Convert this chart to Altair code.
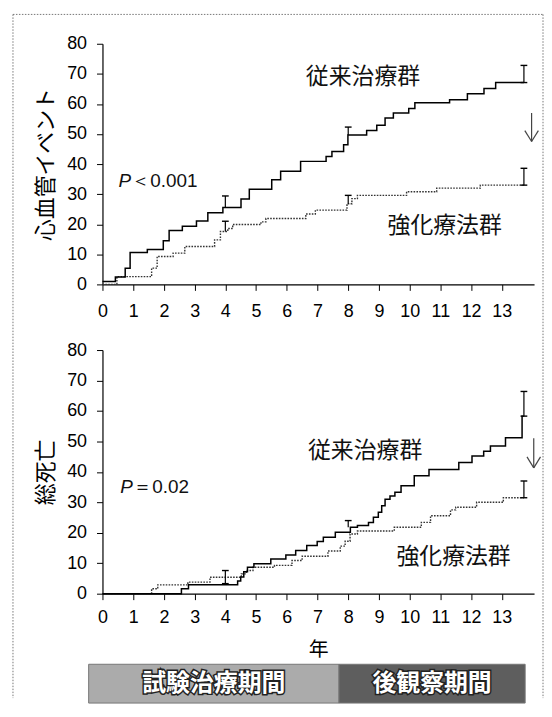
import altair as alt
import pandas as pd

# ---------------- data ----------------
YEAR_TICKS = list(range(0, 14))
Y_TICKS = list(range(0, 81, 10))

GROUPS = ["従来治療群", "強化療法群"]

# 心血管イベント (%)
cv_conv_t = [0, 0.42, 0.74, 0.90, 1.46, 1.98, 2.17, 2.6, 3.06, 3.43, 3.92, 4.51, 4.78, 5.51, 5.8, 6.45,
             7.28, 7.47, 7.85, 7.99, 8.6, 8.93, 9.2, 9.47, 9.97, 10.17, 11.3, 11.88, 12.42, 12.8, 13.72]
cv_conv_v = [1.0, 2.5, 5.4, 10.6, 11.6, 14.5, 17.9, 19.3, 21.1, 23.8, 25.6, 28.4, 31.6, 34.8, 37.6, 40.9,
             42.5, 44.2, 46.4, 49.7, 51.2, 52.9, 55.3, 57.0, 58.5, 60.4, 61.4, 63.4, 65.1, 67.1, 67.1]
cv_int_t = [0, 0.47, 1.6, 1.78, 2.3, 2.68, 3.65, 3.84, 4.08, 4.24, 5.16, 5.32, 6.62, 6.93, 7.96, 8.12,
            8.3, 9.9, 10.88, 12.3, 13.72]
cv_int_v = [0, 2.6, 5.4, 9.3, 10.4, 12.6, 14.8, 17.6, 18.6, 19.9, 20.8, 21.9, 23.4, 24.7, 26.8, 28.5,
            29.6, 30.8, 32.0, 33.0, 33.0]

# 総死亡 (%)
dth_conv_t = [0, 2.57, 2.8, 4.4, 4.5, 4.6, 4.72, 4.93, 5.48, 5.97, 6.29, 6.65, 6.99, 7.19, 7.58, 8.07,
              8.3, 8.66, 8.82, 8.98, 9.09, 9.2, 9.36, 9.52, 9.72, 10.15, 10.63, 11.6, 12.03, 12.41,
              12.63, 13.12, 13.66, 13.72]
dth_conv_v = [0, 1.6, 2.9, 4.2, 5.5, 7.2, 8.7, 9.8, 11.4, 12.7, 14.2, 15.8, 17.1, 18.5, 20.2, 21.8,
              22.4, 23.4, 25.1, 26.7, 28.9, 31.0, 32.1, 33.3, 35.4, 38.7, 40.8, 43.1, 45.2, 46.8,
              48.5, 51.2, 58.3, 58.3]
dth_int_t = [0, 1.6, 1.8, 2.78, 3.5, 4.52, 4.68, 4.9, 5.6, 6.17, 6.5, 7.34, 7.74, 7.9, 8.06, 8.3,
             9.5, 10.38, 10.68, 11.33, 11.5, 12.18, 13.05, 13.72]
dth_int_v = [0, 1.6, 2.9, 3.8, 5.4, 6.5, 7.6, 8.7, 9.3, 10.9, 12.3, 14.0, 15.6, 17.2, 19.6, 20.6,
             21.8, 23.4, 25.6, 27.5, 28.4, 30.0, 31.5, 31.5]

# error bars
cv_bar_t = [4, 4, 8, 8, 13.72, 13.72]
cv_bar_lo = [25.6, 17.6, 49.7, 26.8, 67.1, 33.0]
cv_bar_hi = [29.4, 21.0, 52.3, 29.6, 72.8, 38.6]
cv_bar_caps = ["top", "top", "top", "top", "both", "both"]

dth_bar_t = [4, 8, 13.72, 13.72]
dth_bar_lo = [3.3, 21.8, 58.3, 31.5]
dth_bar_hi = [7.6, 24.0, 66.4, 37.0]
dth_bar_caps = ["both", "top", "both", "both"]

# annotations
cv_label_t = [8.48, 11.14]
cv_label_v = [69.0, 19.3]
dth_label_t = [8.55, 11.43]
dth_label_v = [46.8, 12.1]

cv_p = ["P", "＜0.001"]
cv_p_pos = (0.52, 34.3)
dth_p = ["P", "＝0.02"]
dth_p_pos = (0.58, 34.9)

cv_arrow = (13.97, 57.0, 47.5)
dth_arrow = (14.04, 51.0, 41.3)

periods = ["試験治療期間", "後観察期間"]
period_start = [-0.45, 7.7]
period_end = [7.7, 13.76]
period_fill = ["#ababab", "#5e5e5e"]

# ---------------- layout ----------------
W = 434
H1 = 242
H2 = 245
XDOM = [0, 14.05]
NUM_FONT = "Liberation Sans"
JP_FONT = "Noto Sans CJK JP"
CAP = 0.11
HEAD = 0.22


def make_panel(conv_t, conv_v, int_t, int_v, bar_t, bar_lo, bar_hi, bar_caps,
               lab_t, lab_v, ptexts, ppos, arrow, ytitle, height, xtitle, xlabpad, extra=None):
    xs = alt.Scale(domain=XDOM, nice=False, zero=False)
    ys = alt.Scale(domain=[0, 80], nice=False, zero=False)
    ax_x_kw = dict(values=YEAR_TICKS, tickSize=6, labelPadding=xlabpad, labelFont=NUM_FONT,
                   labelFontSize=18, labelColor="black", tickColor="black", domainColor="black",
                   grid=False, labelFlush=False, labelOverlap=False, domainWidth=1.2)
    if xtitle:
        ax_x_kw.update(titleFont=JP_FONT, titleFontSize=20, titleFontWeight="normal",
                       titleColor="black", titleY=56, titleBaseline="middle")
    ax_x = alt.Axis(**ax_x_kw)
    ax_y = alt.Axis(values=Y_TICKS, tickSize=6, labelPadding=10, labelFont=NUM_FONT,
                    labelFontSize=18, labelColor="black", tickColor="black", domainColor="black",
                    grid=False, labelFlush=False, labelOverlap=False, domainWidth=1.2,
                    titleFont=JP_FONT, titleFontSize=22, titleFontWeight="normal",
                    titleColor="black", titleX=-57, titleY=height / 2, titleAngle=270,
                    titleBaseline="middle", titleAlign="center")

    def X(f):
        return alt.X(f"{f}:Q", scale=xs, axis=ax_x, title=xtitle)

    def Y(f):
        return alt.Y(f"{f}:Q", scale=ys, axis=ax_y, title=ytitle)

    conv = pd.DataFrame({"t": conv_t, "v": conv_v})
    intn = pd.DataFrame({"t": int_t, "v": int_v})
    line_conv = alt.Chart(conv).mark_line(interpolate="step-after", color="black",
                                          strokeWidth=1.5).encode(x=X("t"), y=Y("v"))
    line_int = alt.Chart(intn).mark_line(interpolate="step-after", color="#333",
                                         strokeWidth=1.4, strokeDash=[1.6, 1.3]).encode(x=X("t"), y=Y("v"))

    bars = pd.DataFrame({"t": bar_t, "lo": bar_lo, "hi": bar_hi, "caps": bar_caps})
    bar_rule = alt.Chart(bars).mark_rule(color="black", strokeWidth=1.2).encode(
        x=X("t"), y=Y("lo"), y2="hi")
    caps_rows = []
    for t, lo, hi, c in zip(bar_t, bar_lo, bar_hi, bar_caps):
        caps_rows.append({"t": t - CAP, "t2": t + CAP, "v": hi})
        if c == "both":
            caps_rows.append({"t": t - CAP, "t2": t + CAP, "v": lo})
    caps = alt.Chart(pd.DataFrame(caps_rows)).mark_rule(color="black", strokeWidth=1.4).encode(
        x=X("t"), x2="t2", y=Y("v"))

    labels = pd.DataFrame({"t": lab_t, "v": lab_v, "label": GROUPS})
    lab = alt.Chart(labels).mark_text(font=JP_FONT, fontSize=23, color="#111", align="center",
                                      baseline="middle").encode(x=X("t"), y=Y("v"), text="label")

    pdf = pd.DataFrame({"t": [ppos[0]], "v": [ppos[1]], "a": [ptexts[0]], "b": [ptexts[1]]})
    p1 = alt.Chart(pdf).mark_text(font=NUM_FONT, fontSize=19, fontStyle="italic", color="#111",
                                  align="left", baseline="middle").encode(x=X("t"), y=Y("v"), text="a")
    p2 = alt.Chart(pdf).mark_text(font=NUM_FONT, fontSize=19, color="#111", align="left",
                                  baseline="middle", dx=13).encode(x=X("t"), y=Y("v"), text="b")

    ax, atop, abot = arrow
    hy = 3.6
    arr = pd.DataFrame({"t": [ax, ax - HEAD, ax + HEAD], "t2": [ax, ax, ax],
                        "v": [atop, abot + hy, abot + hy], "v2": [abot, abot, abot]})
    arrow_l = alt.Chart(arr).mark_rule(color="#444", strokeWidth=1.2).encode(
        x=X("t"), x2="t2", y=Y("v"), y2="v2")

    layers = [line_int, line_conv, bar_rule, caps, lab, p1, p2, arrow_l]
    if extra is not None:
        layers += extra(X, Y)
    return alt.layer(*layers).properties(width=W, height=height)


def frame_rule(x, x2, y, y2):
    return alt.Chart(pd.DataFrame({"k": [0]})).mark_rule(
        color="#777", strokeDash=[1.5, 1.5], strokeWidth=1).encode(
        x=alt.value(x), x2=alt.value(x2), y=alt.value(y), y2=alt.value(y2))


def frame_layers(X, Y):
    return [frame_rule(-90, -90, -29.5, 658),
            frame_rule(-90, 443, -29.5, -29.5),
            frame_rule(443, 443, -29.5, 658)]


def period_layers(X, Y):
    pdf = pd.DataFrame({"t": period_start, "t2": period_end, "fill": period_fill, "label": periods,
                        "tc": [(a + b) / 2 for a, b in zip(period_start, period_end)]})
    box = alt.Chart(pdf).mark_rect(stroke="#777", strokeWidth=1).encode(
        x=X("t"), x2="t2", y=alt.value(316), y2=alt.value(355),
        color=alt.Color("fill:N", scale=None))
    txt_out = alt.Chart(pdf).mark_text(font=JP_FONT, fontSize=24, fontWeight="bold", fill="#222",
                                       stroke="#222", strokeWidth=3, align="center",
                                       baseline="middle").encode(
        x=X("tc"), y=alt.value(336), text="label")
    txt_in = alt.Chart(pdf).mark_text(font=JP_FONT, fontSize=24, fontWeight="bold", fill="white",
                                      align="center", baseline="middle").encode(
        x=X("tc"), y=alt.value(336), text="label")
    return [box, txt_out, txt_in]


top = make_panel(cv_conv_t, cv_conv_v, cv_int_t, cv_int_v, cv_bar_t, cv_bar_lo, cv_bar_hi,
                 cv_bar_caps, cv_label_t, cv_label_v, cv_p, cv_p_pos, cv_arrow,
                 "心血管イベント", H1, None, 12, extra=frame_layers)
bottom = make_panel(dth_conv_t, dth_conv_v, dth_int_t, dth_int_v, dth_bar_t, dth_bar_lo,
                    dth_bar_hi, dth_bar_caps, dth_label_t, dth_label_v, dth_p, dth_p_pos,
                    dth_arrow, "総死亡", H2, "年", 9, extra=period_layers)

chart = alt.vconcat(top, bottom, spacing=66, bounds="flush").properties(
    padding={"left": 4, "top": 4, "right": 0, "bottom": 0}
).resolve_scale(x="independent", y="independent").configure_view(strokeWidth=0)

chart.save("out.html", embed_options={"renderer": "svg", "actions": False})
